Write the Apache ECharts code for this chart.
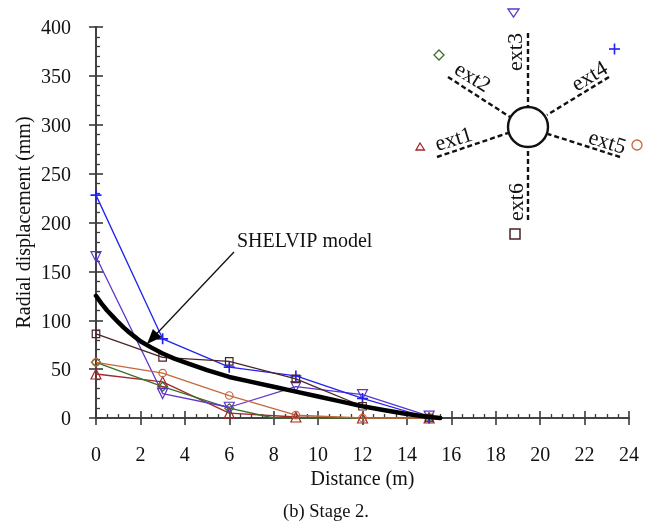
<!DOCTYPE html>
<html><head><meta charset="utf-8">
<style>html,body{margin:0;padding:0;background:#fff}#c{width:649px;height:524px}</style>
<script src="https://cdn.jsdelivr.net/npm/echarts@6/dist/echarts.min.js"></script>
</head><body><div id="c"></div>
<script>
const distances = [0, 3, 6, 9, 12, 15];
const ext1 = [45, 37, 5, 1, 0, 0];
const ext2 = [57, 32, 10, 0, 0, 0];
const ext3 = [165, 25, 11, 32, 24, 2];
const ext4 = [228, 81, 52, 43, 20, 0];
const ext5 = [57, 46, 23, 3, 0, 0];
const ext6 = [86, 62, 58, 40, 12, 0];
const modelX = [0, 0.25, 0.5, 0.75, 1, 1.25, 1.5, 1.75, 2, 2.5, 3, 3.5, 4, 5, 6, 7, 8, 9, 10, 11, 12, 13, 14, 15, 15.5];
const modelY = [125, 117, 110, 104, 98, 92.5, 87.5, 83, 78.5, 72, 66, 61, 57, 49, 42, 37, 32, 27, 22, 17, 12, 8, 4, 1, 0];
const xTicks = ['0','2','4','6','8','10','12','14','16','18','20','22','24'];

const font = '"Liberation Serif","Times New Roman",serif';
const axisCol = '#3a3a3a';
const names = ['ext1','ext2','ext3','ext4','ext5','ext6'];
const values = [ext1, ext2, ext3, ext4, ext5, ext6];
const colors = ['#a3282c','#3c6e2c','#5b36c9','#2222ee','#c4683a','#4c2325'];
const tri = 'path://M0,-10L10,8L-10,8Z';
const invTri = 'path://M0,10L10,-8L-10,-8Z';
const plus = 'path://M-1.5,-10H1.5V-1.5H10V1.5H1.5V10H-1.5V1.5H-10V-1.5H-1.5Z';
const symbols = [tri, 'diamond', invTri, plus, 'circle', 'rect'];
const open = [true,true,true,false,true,true];
const sizes = [10,9,10,11,7.5,7.5];

const series = names.map((n,i)=>({
  name:n, type:'line', clip:false,
  data: distances.map((d,j)=>[d, values[i][j]]),
  symbol: symbols[i], symbolSize: sizes[i], showAllSymbol:true,
  lineStyle:{color:colors[i], width:1.3},
  itemStyle: open[i] ? {color:'rgba(255,255,255,0)', borderColor:colors[i], borderWidth:1.2}
                     : {color:colors[i], borderColor:colors[i], borderWidth:0},
  z:3
}));
// ext2 reaches the axis just before x = 8
series[1].data = [[0,57],[3,32],[6,10],{value:[8,0],symbol:'none'},[15,0]];

series.push({
  name:'SHELVIP model', type:'line', clip:false, smooth:false, symbol:'none', z:5,
  data:modelX.map((x,i)=>[x,modelY[i]]),
  lineStyle:{color:'#000',width:4.5,cap:'round',join:'round'}
});

const dash = (x1,y1,x2,y2)=>({type:'line',shape:{x1,y1,x2,y2},
  style:{stroke:'#111',lineWidth:2.4,lineDash:[5,3]}});
const label = (text,x,y,deg)=>({type:'text',x,y,rotation:deg*Math.PI/180,
  style:{text,font:'22px '+font,fill:'#111',textAlign:'center',textVerticalAlign:'middle'}});
const graphic = [
  dash(528,33,528,108), dash(448,77,510,117), dash(609,77,547,115),
  dash(437,157,508,133), dash(620,157,548,134), dash(528,220,528,148),
  {type:'circle',shape:{cx:528,cy:127,r:20},style:{fill:'#fff',stroke:'#111',lineWidth:2.4}},
  label('ext3',516,52,90), label('ext2',472,78,-32), label('ext4',590,77,31),
  label('ext1',454,140,17), label('ext5',607,143,-17), label('ext6',517,202,90),
  {type:'polygon',shape:{points:[[420,143],[424.5,150],[416,150]]},style:{fill:'none',stroke:colors[0],lineWidth:1.3}},
  {type:'polygon',shape:{points:[[439,50],[444,55],[439,60],[434,55]]},style:{fill:'none',stroke:colors[1],lineWidth:1.3}},
  {type:'polygon',shape:{points:[[508,9],[519,9],[513.5,17]]},style:{fill:'none',stroke:colors[2],lineWidth:1.3}},
  {type:'line',shape:{x1:609,y1:49,x2:620,y2:49},style:{stroke:colors[3],lineWidth:1.6}},
  {type:'line',shape:{x1:614.5,y1:43.5,x2:614.5,y2:54.5},style:{stroke:colors[3],lineWidth:1.6}},
  {type:'circle',shape:{cx:637,cy:145,r:5},style:{fill:'none',stroke:colors[4],lineWidth:1.3}},
  {type:'rect',shape:{x:510,y:229,width:10,height:10},style:{fill:'none',stroke:colors[5],lineWidth:1.5}},
  {type:'line',z:20,shape:{x1:234,y1:252,x2:155,y2:335.5},style:{stroke:'#111',lineWidth:1.3}},
  {type:'polygon',z:20,shape:{points:[[147,344],[161.7,337.2],[152.9,329]]},style:{fill:'#000'}},
  {type:'text',x:237,y:242,style:{text:'SHELVIP model',font:'20px '+font,fill:'#111',textAlign:'left',textVerticalAlign:'middle'}},
  {type:'text',x:326,y:512,style:{text:'(b) Stage 2.',font:'18.5px '+font,fill:'#111',textAlign:'center',textVerticalAlign:'middle'}}
];

const baseX = {type:'value',min:0,max:24,interval:2,position:'bottom',
  axisLine:{show:true,onZero:false,lineStyle:{color:axisCol,width:1.6}},splitLine:{show:false}};
const baseY = {type:'value',min:0,max:400,interval:50,position:'left',
  axisLine:{show:true,onZero:false,lineStyle:{color:axisCol,width:1.6}},splitLine:{show:false}};

const option = {
  animation:false, backgroundColor:'#fff',
  grid:{left:96,right:20,top:27,bottom:106,containLabel:false},
  xAxis:[
    {...baseX,name:'Distance (m)',nameLocation:'middle',nameGap:52,nameMoveOverlap:false,
     nameTextStyle:{fontFamily:font,fontSize:20,color:'#111'},
     axisTick:{show:true,length:7,lineStyle:{color:axisCol,width:1.6}},
     axisLabel:{fontFamily:font,fontSize:20,color:'#111',margin:28,formatter:v=>xTicks[v/2]}},
    {...baseX,axisTick:{show:true,inside:true,length:7,lineStyle:{color:axisCol,width:1.6}},
     minorTick:{show:true,splitNumber:4,length:4,lineStyle:{color:axisCol,width:1.3}},
     axisLabel:{show:false}}
  ],
  yAxis:[
    {...baseY,name:'Radial displacement (mm)',nameLocation:'middle',nameGap:61,nameMoveOverlap:false,
     nameTextStyle:{fontFamily:font,fontSize:20,color:'#111'},
     axisTick:{show:true,length:7,lineStyle:{color:axisCol,width:1.6}},
     axisLabel:{fontFamily:font,fontSize:20,color:'#111',margin:25,verticalAlign:'top',lineHeight:4}},
    {...baseY,axisTick:{show:true,inside:true,length:7,lineStyle:{color:axisCol,width:1.6}},
     minorTick:{show:true,splitNumber:5,length:4,lineStyle:{color:axisCol,width:1.3}},
     axisLabel:{show:false}}
  ],
  series, graphic
};
echarts.init(document.getElementById('c'),null,{renderer:'canvas'}).setOption(option);
</script></body></html>
